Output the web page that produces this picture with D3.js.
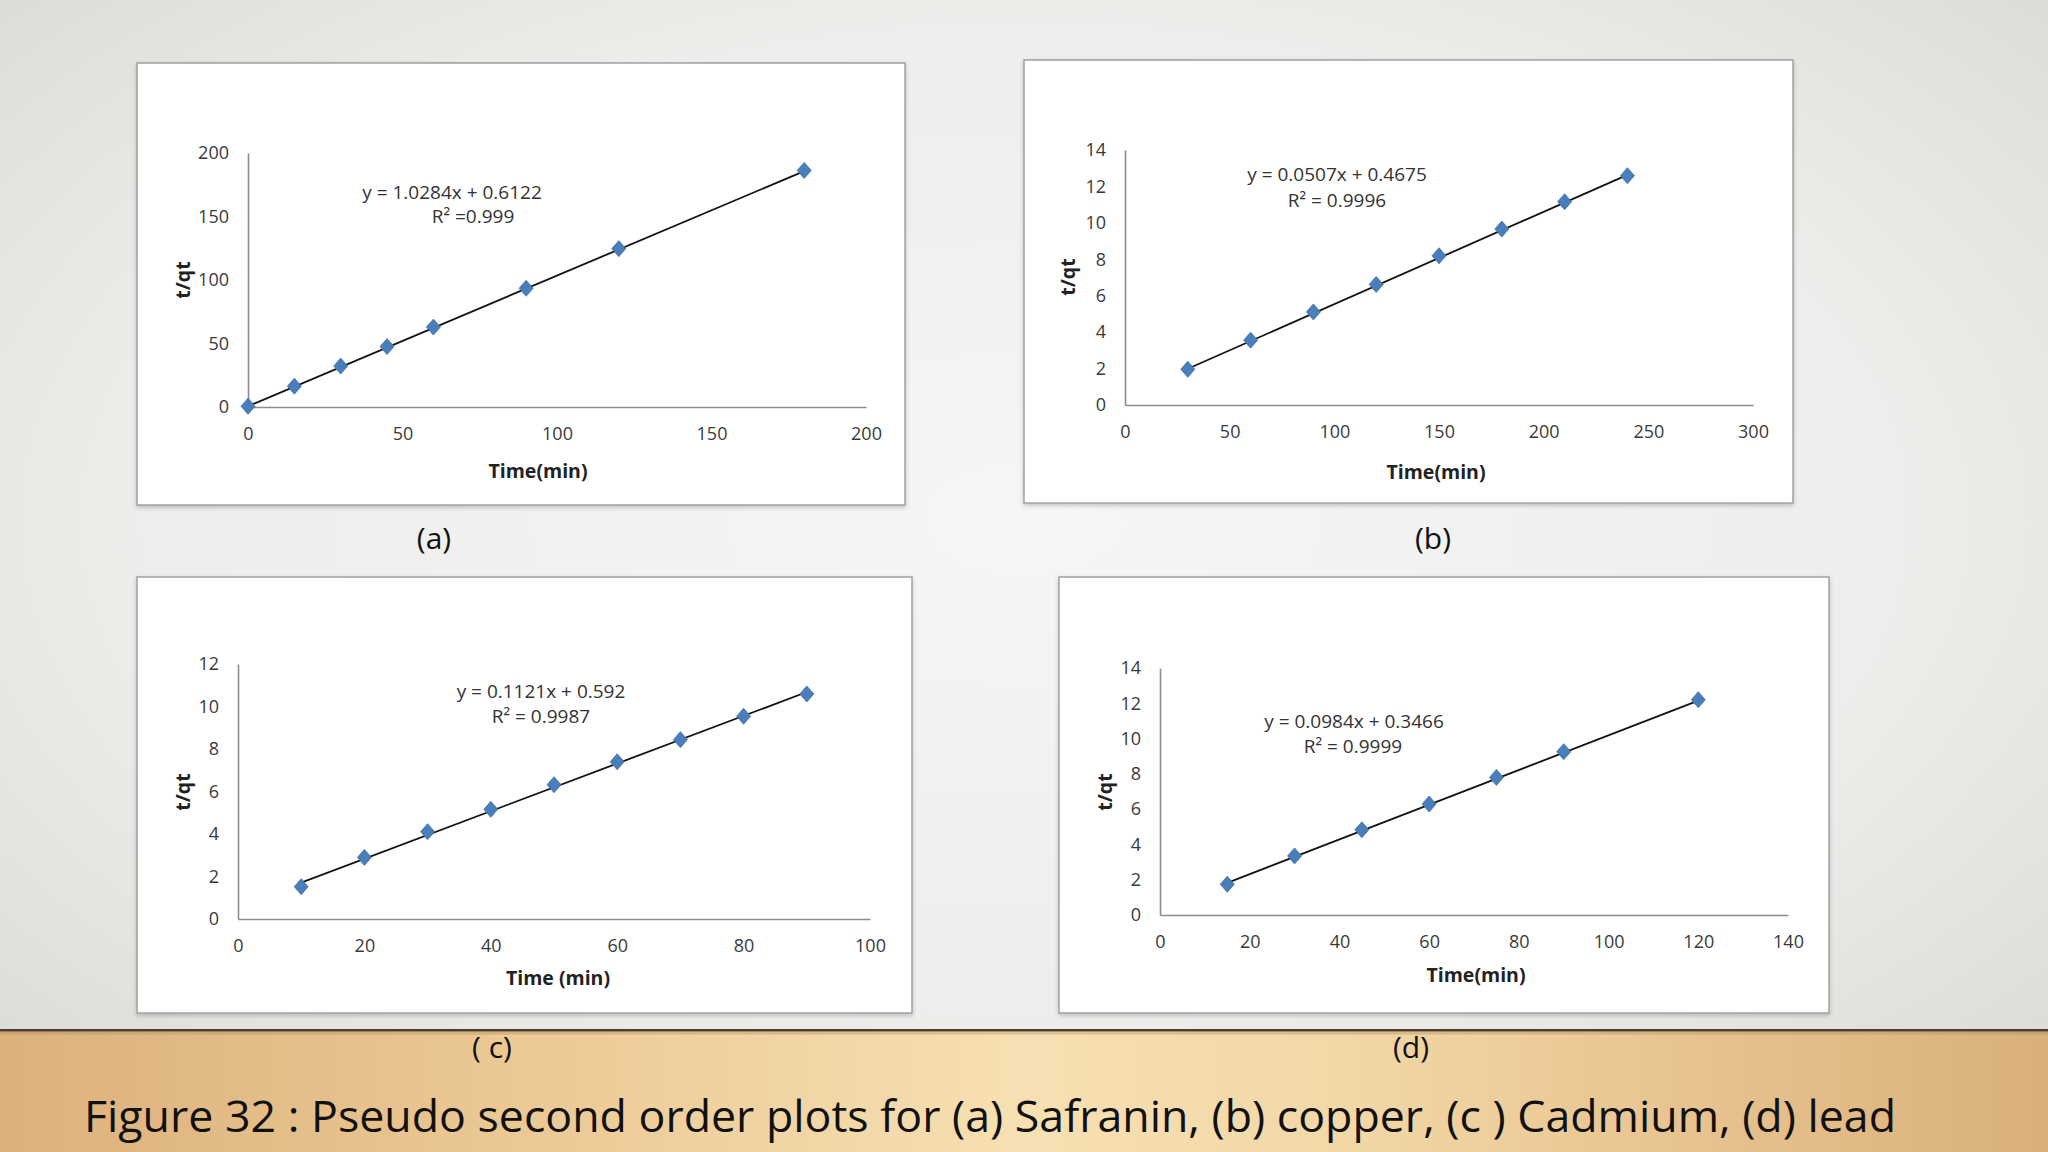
<!DOCTYPE html>
<html>
<head>
<meta charset="utf-8">
<script src="https://cdn.jsdelivr.net/npm/d3@7"></script>
<style>
  html, body { margin: 0; padding: 0; background: #ececec; }
  svg { display: block; }
</style>
</head>
<body>
<svg id="chart" width="2048" height="1152"></svg>
<script>
// ---------------- DATA ----------------
const timeA = [0, 15, 30, 45, 60, 90, 120, 180];
const tqtA  = [0.6, 16.4, 32.2, 47.6, 62.9, 93.5, 124.7, 186.3];
const fitA  = [1.0284, 0.6122];
const xTicksA = [0, 50, 100, 150, 200];
const yTicksA = [0, 50, 100, 150, 200];

const timeB = [30, 60, 90, 120, 150, 180, 210, 240];
const tqtB  = [1.96, 3.56, 5.11, 6.62, 8.19, 9.66, 11.16, 12.59];
const fitB  = [0.0507, 0.4675];
const xTicksB = [0, 50, 100, 150, 200, 250, 300];
const yTicksB = [0, 2, 4, 6, 8, 10, 12, 14];

const timeC = [10, 20, 30, 40, 50, 60, 70, 80, 90];
const tqtC  = [1.52, 2.90, 4.11, 5.16, 6.32, 7.40, 8.44, 9.54, 10.59];
const fitC  = [0.1121, 0.592];
const xTicksC = [0, 20, 40, 60, 80, 100];
const yTicksC = [0, 2, 4, 6, 8, 10, 12];

const timeD = [15, 30, 45, 60, 75, 90, 120];
const tqtD  = [1.74, 3.35, 4.83, 6.29, 7.80, 9.26, 12.20];
const fitD  = [0.0984, 0.3466];
const xTicksD = [0, 20, 40, 60, 80, 100, 120, 140];
const yTicksD = [0, 2, 4, 6, 8, 10, 12, 14];

const eqTexts = ["y = 1.0284x + 0.6122", "y = 0.0507x + 0.4675", "y = 0.1121x + 0.592", "y = 0.0984x + 0.3466"];
const r2Texts = ["R² =0.999", "R² = 0.9996", "R² = 0.9987", "R² = 0.9999"];
const xTitles = ["Time(min)", "Time(min)", "Time (min)", "Time(min)"];
const yTitle = "t/qt";
const panelLabels = ["(a)", "(b)", "( c)", "(d)"];
const caption = "Figure 32 : Pseudo second order plots for (a) Safranin, (b) copper, (c ) Cadmium, (d) lead";

// ---------------- LAYOUT ----------------
const panels = [
  { time: timeA, tqt: tqtA, fit: fitA, xt: xTicksA, yt: yTicksA,
    box: [137, 63, 768, 442], px: [248, 866], py: [407, 153],
    eq: [452, 192], r2: [473, 216], xtitle: [538, 470], ytitle: [182, 280], label: [434, 537] },
  { time: timeB, tqt: tqtB, fit: fitB, xt: xTicksB, yt: yTicksB,
    box: [1024, 60, 769, 443], px: [1125, 1753], py: [405, 150],
    eq: [1337, 174], r2: [1337, 200], xtitle: [1436, 471], ytitle: [1067, 277], label: [1433, 537] },
  { time: timeC, tqt: tqtC, fit: fitC, xt: xTicksC, yt: yTicksC,
    box: [137, 577, 775, 436], px: [238, 870], py: [919, 664],
    eq: [541, 691], r2: [541, 716], xtitle: [558, 977], ytitle: [182, 792], label: [492, 1046] },
  { time: timeD, tqt: tqtD, fit: fitD, xt: xTicksD, yt: yTicksD,
    box: [1059, 577, 770, 436], px: [1160, 1788], py: [915, 668],
    eq: [1354, 721], r2: [1353, 746], xtitle: [1476, 974], ytitle: [1104, 792], label: [1411, 1046] }
];

const svg = d3.select("#chart");
const defs = svg.append("defs");

// background gradient
const bg = defs.append("radialGradient").attr("id", "bg")
  .attr("cx", "50%").attr("cy", "45%").attr("r", "72%");
bg.append("stop").attr("offset", "0%").attr("stop-color", "#f6f6f5");
bg.append("stop").attr("offset", "60%").attr("stop-color", "#ededeb");
bg.append("stop").attr("offset", "100%").attr("stop-color", "#d9d9d4");

const wood = defs.append("linearGradient").attr("id", "wood")
  .attr("x1", "0%").attr("x2", "100%").attr("y1", "0%").attr("y2", "0%");
wood.append("stop").attr("offset", "0%").attr("stop-color", "#dcb17c");
wood.append("stop").attr("offset", "25%").attr("stop-color", "#ebc894");
wood.append("stop").attr("offset", "50%").attr("stop-color", "#f7e0b3");
wood.append("stop").attr("offset", "65%").attr("stop-color", "#f3d8a8");
wood.append("stop").attr("offset", "85%").attr("stop-color", "#e6c08c");
wood.append("stop").attr("offset", "100%").attr("stop-color", "#d9b07c");

const sh = defs.append("filter").attr("id", "shadow").attr("x", "-5%").attr("y", "-5%").attr("width", "110%").attr("height", "115%");
sh.append("feDropShadow").attr("dx", 0).attr("dy", 2).attr("stdDeviation", 2).attr("flood-color", "#000").attr("flood-opacity", 0.2);

svg.append("rect").attr("x", 0).attr("y", 0).attr("width", 2048).attr("height", 1152).attr("fill", "url(#bg)");

// wood band
svg.append("rect").attr("x", 0).attr("y", 1031).attr("width", 2048).attr("height", 121).attr("fill", "url(#wood)");
svg.append("rect").attr("x", 0).attr("y", 1029).attr("width", 2048).attr("height", 2.5).attr("fill", "#4e3d2b");
svg.append("rect").attr("x", 0).attr("y", 1031.5).attr("width", 2048).attr("height", 3).attr("fill", "#a88660").attr("opacity", 0.35);

const tickFont = "'Open Sans', 'Liberation Sans', sans-serif";

// rhombus marker, slightly taller than wide
const diamond = (w, h) => `M0,${-h}L${w},0L0,${h}L${-w},0Z`;

panels.forEach((p, i) => {
  const g = svg.append("g");
  // panel box
  g.append("rect")
    .attr("x", p.box[0]).attr("y", p.box[1]).attr("width", p.box[2]).attr("height", p.box[3])
    .attr("fill", "#ffffff").attr("stroke", "#a0a0a0").attr("stroke-width", 1.5)
    .attr("filter", "url(#shadow)");

  const x = d3.scaleLinear().domain([p.xt[0], p.xt[p.xt.length - 1]]).range(p.px);
  const y = d3.scaleLinear().domain([p.yt[0], p.yt[p.yt.length - 1]]).range(p.py);

  // axes
  const xAxis = d3.axisBottom(x).tickValues(p.xt).tickSize(0).tickPadding(20);
  const yAxis = d3.axisLeft(y).tickValues(p.yt).tickSize(0).tickPadding(19);

  const gx = g.append("g").attr("transform", `translate(0,${p.py[0]})`).call(xAxis);
  const gy = g.append("g").attr("transform", `translate(${p.px[0]},0)`).call(yAxis);
  [gx, gy].forEach(ax => {
    ax.select(".domain").attr("stroke", "#8c8c8c").attr("stroke-width", 1.6);
    ax.selectAll("text").attr("font-family", tickFont).attr("font-size", 18).attr("fill", "#3a3a3a");
  });

  // trendline
  const x0 = d3.min(p.time), x1 = d3.max(p.time);
  g.append("line")
    .attr("x1", x(x0)).attr("y1", y(p.fit[0] * x0 + p.fit[1]))
    .attr("x2", x(x1)).attr("y2", y(p.fit[0] * x1 + p.fit[1]))
    .attr("stroke", "#111").attr("stroke-width", 1.8);

  // diamonds
  g.selectAll("path.pt").data(p.time.map((t, k) => [t, p.tqt[k]])).join("path")
    .attr("class", "pt")
    .attr("d", diamond(7, 8))
    .attr("transform", d => `translate(${x(d[0])},${y(d[1])})`)
    .attr("fill", "#4a7ebb").attr("stroke", "#3d6ea8").attr("stroke-width", 0.8);

  // equation text
  g.append("text").attr("x", p.eq[0]).attr("y", p.eq[1]).attr("text-anchor", "middle")
    .attr("dominant-baseline", "central")
    .attr("font-family", tickFont).attr("font-size", 19).attr("fill", "#333").text(eqTexts[i]);
  g.append("text").attr("x", p.r2[0]).attr("y", p.r2[1]).attr("text-anchor", "middle")
    .attr("dominant-baseline", "central")
    .attr("font-family", tickFont).attr("font-size", 19).attr("fill", "#333").text(r2Texts[i]);

  // axis titles
  g.append("text").attr("x", p.xtitle[0]).attr("y", p.xtitle[1]).attr("text-anchor", "middle")
    .attr("dominant-baseline", "central")
    .attr("font-family", tickFont).attr("font-weight", "bold").attr("font-size", 19.5).attr("fill", "#222")
    .text(xTitles[i]);
  g.append("text").attr("transform", `translate(${p.ytitle[0]},${p.ytitle[1]}) rotate(-90)`)
    .attr("text-anchor", "middle").attr("dominant-baseline", "central")
    .attr("font-family", tickFont).attr("font-weight", "bold").attr("font-size", 19.5).attr("fill", "#222")
    .text(yTitle);

  // panel label
  svg.append("text").attr("x", p.label[0]).attr("y", p.label[1]).attr("text-anchor", "middle")
    .attr("dominant-baseline", "central")
    .attr("font-family", "'Open Sans', sans-serif").attr("font-size", 30).attr("fill", "#111")
    .text(panelLabels[i]);
});

// caption
svg.append("text").attr("x", 84).attr("y", 1132)
  .attr("font-family", "'Open Sans', sans-serif")
  .attr("font-size", 43).attr("fill", "#111")
  .attr("textLength", 1812).attr("lengthAdjust", "spacingAndGlyphs")
  .text(caption);
</script>
</body>
</html>
